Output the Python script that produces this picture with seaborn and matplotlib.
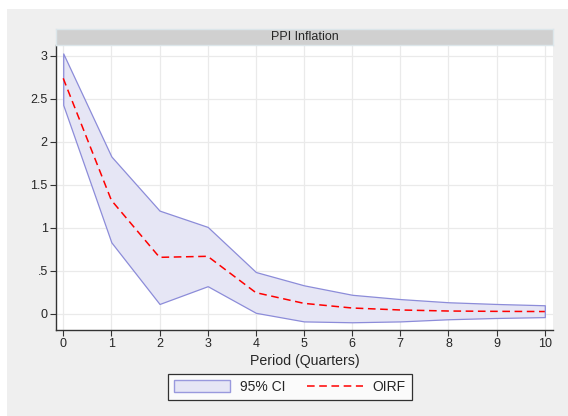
import numpy as np
import pandas as pd
import matplotlib
matplotlib.use("Agg")
import matplotlib.pyplot as plt
import seaborn as sns
from matplotlib.patches import Rectangle, Patch
from matplotlib.lines import Line2D

# valori
periodi = [0, 1, 2, 3, 4, 5, 6, 7, 8, 9, 10]
oirf = [2.74, 1.32, 0.656, 0.668, 0.245, 0.12, 0.066, 0.043, 0.031, 0.027, 0.025]
ci_alto = [3.03, 1.83, 1.20, 1.01, 0.485, 0.33, 0.22, 0.17, 0.133, 0.113, 0.098]
ci_basso = [2.43, 0.83, 0.113, 0.32, 0.01, -0.09, -0.10, -0.09, -0.065, -0.05, -0.04]
yticks = [0, 0.5, 1, 1.5, 2, 2.5, 3]
ytick_labels = ["0", ".5", "1", "1.5", "2", "2.5", "3"]

df = pd.DataFrame({"Periodo": periodi, "OIRF": oirf, "alto": ci_alto, "basso": ci_basso})

sns.set_theme(style="whitegrid")
plt.rcParams["font.family"] = ["Liberation Sans", "DejaVu Sans"]

fig = plt.figure(figsize=(5.68, 4.16), dpi=100)
fig.patch.set_facecolor("white")
fig.add_artist(Rectangle((7 / 568, 0), 1 - 7 / 568, 1 - 9 / 416, transform=fig.transFigure,
                         facecolor="#efefef", edgecolor="none", zorder=-10))

ax = fig.add_axes([56 / 568, 1 - 330 / 416, (553 - 56) / 568, (330 - 45) / 416])
ax.set_facecolor("white")

ax.fill_between(df["Periodo"], df["basso"], df["alto"], facecolor="#e6e6f5",
                edgecolor="#8c8cd9", linewidth=0.9, zorder=2)
sns.lineplot(data=df, x="Periodo", y="OIRF", ax=ax, color="#ff0000",
             linestyle=(0, (5, 3)), linewidth=1.1, zorder=3)

ax.set_xlim(-0.15, 10.17)
ax.set_ylim(-0.19, 3.128)
ax.set_xticks(periodi)
ax.set_yticks(yticks)
ax.set_yticklabels(ytick_labels)
ax.tick_params(axis="both", labelsize=9, length=4, width=0.8, color="#333333",
               direction="out", pad=2, left=True, bottom=True)
ax.grid(True, color="#eaeaea", linewidth=0.9)
ax.set_axisbelow(True)
for s in ["top", "right"]:
    ax.spines[s].set_visible(False)
for s in ["left", "bottom"]:
    ax.spines[s].set_color("#333333")
    ax.spines[s].set_linewidth(1.0)
ax.set_xlabel("Period (Quarters)", fontsize=10.2, labelpad=3)
ax.set_ylabel("")

# striscia del titolo
strip = fig.add_axes([56 / 568, 1 - 45 / 416, (553 - 56) / 568, 16 / 416])
strip.set_facecolor("#d0d0d0")
strip.set_xticks([])
strip.set_yticks([])
for s in strip.spines.values():
    s.set_color("#dce6ea")
    s.set_linewidth(1.0)
strip.text(0.5, 0.5, "PPI Inflation", ha="center", va="center", fontsize=9,
           transform=strip.transAxes)

handles = [Patch(facecolor="#e6e6f5", edgecolor="#9999dd", linewidth=1.0),
           Line2D([0], [0], color="#ff0000", linestyle=(0, (5, 3)), linewidth=1.1)]
leg = fig.legend(handles, ["95% CI", "OIRF"], loc="center", ncol=2,
                 bbox_to_anchor=(290 / 568, 1 - 387 / 416), fontsize=10,
                 frameon=True, fancybox=False, handlelength=4.0, handleheight=1.0,
                 columnspacing=1.6, borderpad=0.45, handletextpad=0.7)
leg.get_frame().set_edgecolor("black")
leg.get_frame().set_linewidth(0.9)
leg.get_frame().set_facecolor("white")

fig.savefig("out.png", dpi=100)
